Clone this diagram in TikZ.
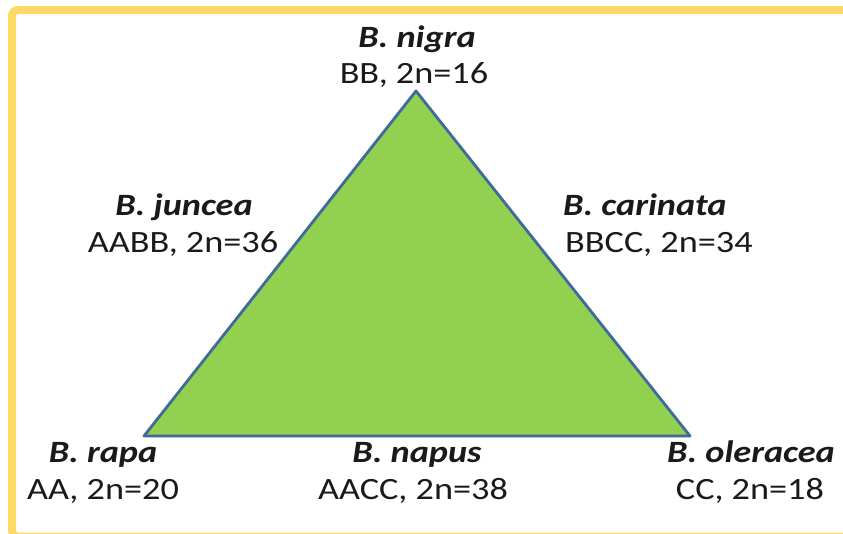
\documentclass[tikz,border=0pt]{standalone}
\usepackage{fontspec}
\setmainfont{Carlito}[FakeStretch=1.17]
\definecolor{framegold}{HTML}{FFD966}
\definecolor{leafgreen}{HTML}{92D050}
\definecolor{edgeblue}{HTML}{3F6A9A}
\definecolor{inkgray}{HTML}{1A1A1A}
\begin{document}
\begin{tikzpicture}[x=1pt,y=-1pt,
  species/.style={inner sep=0pt,font=\fontsize{31}{36}\selectfont\bfseries\itshape,text=inkgray},
  genome/.style={inner sep=0pt,font=\fontsize{31}{36}\selectfont,text=inkgray}]
\useasboundingbox (0,0) rectangle (843,533);
\fill[white] (0,0) rectangle (843,533);
% outer frame, partly cut off on the right and bottom
\draw[framegold,line width=8pt,rounded corners=6pt] (12,10) rectangle (870,536.5);
% triangle of U
\coordinate (top) at (416,91);
\coordinate (left) at (144,436);
\coordinate (right) at (690,436);
\filldraw[fill=leafgreen,draw=edgeblue,line width=2.8pt,line join=round] (top) -- (left) -- (right) -- cycle;
% labels
\node[species,anchor=base] (nigraN) at (417,47) {B. nigra};
\node[genome,anchor=base] (nigraG) at (414,83) {BB, 2n=16};
\node[species,anchor=base] (junceaN) at (184,215) {B. juncea};
\node[genome,anchor=base] (junceaG) at (183,252) {AABB, 2n=36};
\node[species,anchor=base west] (carinataN) at (563,215) {B. carinata};
\node[genome,anchor=base west] (carinataG) at (565,252) {BBCC, 2n=34};
\node[species,anchor=base] (rapaN) at (103,462) {B. rapa};
\node[genome,anchor=base] (rapaG) at (103,499) {AA, 2n=20};
\node[species,anchor=base] (napusN) at (417,462) {B. napus};
\node[genome,anchor=base] (napusG) at (413,499) {AACC, 2n=38};
\node[species,anchor=base] (oleraceaN) at (751,462) {B. oleracea};
\node[genome,anchor=base] (oleraceaG) at (750,499) {CC, 2n=18};
\end{tikzpicture}
\end{document}
